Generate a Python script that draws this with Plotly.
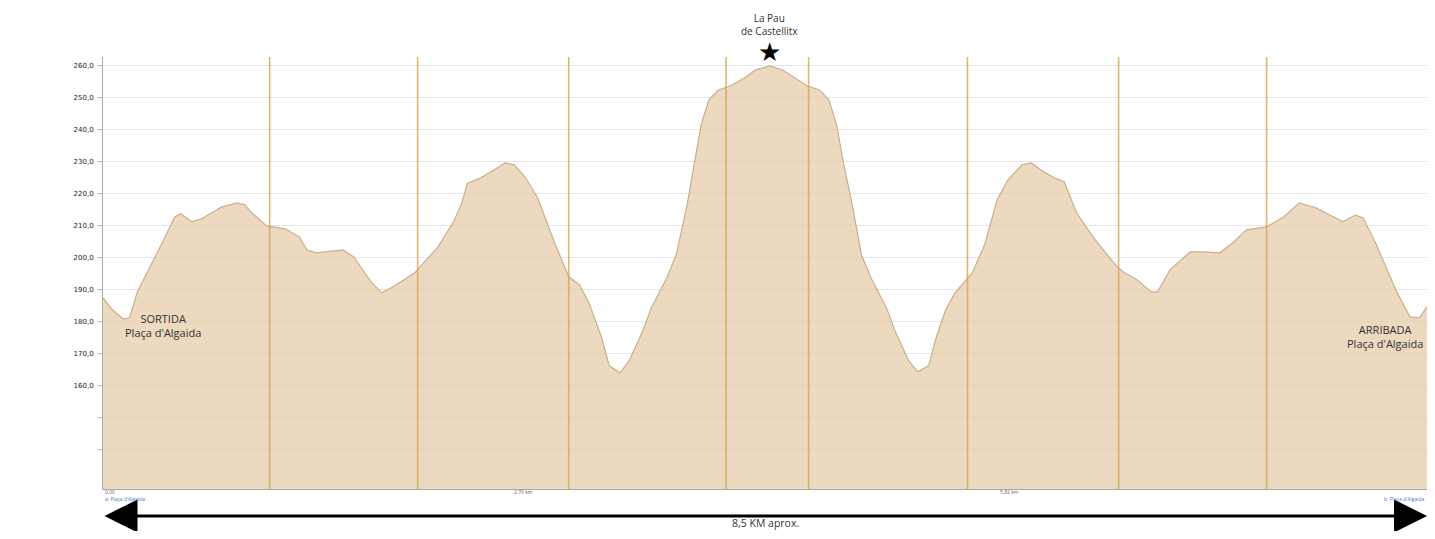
import plotly.graph_objects as go

# Elevation profile (distance in km, elevation in m)
dist_km = [0.00, 0.06, 0.13, 0.17, 0.22, 0.30, 0.38, 0.46, 0.50, 0.57, 0.63, 0.76, 0.86, 0.91, 0.95,
           1.05, 1.17, 1.26, 1.31, 1.37, 1.44, 1.54, 1.61, 1.65, 1.72, 1.79, 1.86, 2.00, 2.15, 2.25,
           2.30, 2.34, 2.41, 2.51, 2.58, 2.64, 2.71, 2.79, 2.90, 2.99, 3.06, 3.12, 3.20, 3.25, 3.32,
           3.38, 3.46, 3.52, 3.62, 3.68, 3.75, 3.80, 3.84, 3.89, 3.95, 4.03, 4.12, 4.19, 4.28,
           4.36, 4.44, 4.52, 4.60, 4.66, 4.71, 4.75, 4.81, 4.87, 4.93, 5.03, 5.09, 5.17, 5.23, 5.30,
           5.35, 5.41, 5.47, 5.58, 5.66, 5.74, 5.81, 5.90, 5.96, 6.04, 6.11, 6.17, 6.25, 6.36, 6.49,
           6.55, 6.64, 6.73, 6.77, 6.85, 6.98, 7.06, 7.17, 7.26, 7.34, 7.47, 7.58, 7.68, 7.79, 7.96,
           8.04, 8.09, 8.17, 8.30, 8.39, 8.45, 8.50]
elev_m = [187.5, 183.8, 180.9, 181.3, 189.4, 196.9, 204.7, 212.8, 213.8, 211.3, 212.2, 215.9, 217.2, 216.6, 214.4,
          210.0, 209.1, 206.6, 202.5, 201.6, 201.9, 202.5, 200.3, 197.5, 192.5, 189.1, 190.9, 195.3, 203.4, 211.3,
          216.6, 223.4, 224.7, 227.5, 229.7, 229.1, 225.3, 218.8, 204.7, 194.1, 191.6, 185.9, 175.3, 166.3, 164.1,
          168.1, 176.6, 184.4, 193.8, 200.9, 216.6, 230.6, 241.6, 249.4, 252.5, 253.8, 256.3, 258.8, 260.0,
          258.8, 256.3, 253.8, 252.5, 249.4, 241.6, 230.6, 216.6, 200.9, 193.8, 184.4, 176.6, 168.1, 164.4, 166.3,
          175.3, 183.8, 189.1, 195.3, 204.1, 218.1, 224.4, 229.1, 229.7, 226.9, 225.0, 223.8, 214.1, 206.3, 198.4,
          195.6, 193.1, 189.4, 189.4, 196.3, 201.9, 201.9, 201.6, 205.0, 208.8, 209.7, 212.8, 217.2, 215.6, 211.3,
          213.4, 212.5, 204.7, 190.0, 181.6, 181.3, 184.7]

# Vertical marker lines (km)
marker_km = [1.07, 2.02, 2.99, 4.00, 4.53, 5.55, 6.52, 7.47]

# Y axis ticks
y_tickvals = [140, 150, 160, 170, 180, 190, 200, 210, 220, 230, 240, 250, 260]
y_ticktext = ["", "", "160,0", "170,0", "180,0", "190,0", "200,0", "210,0", "220,0",
              "230,0", "240,0", "250,0", "260,0"]

# Summit
summit_km = 4.28

Y_MIN, Y_MAX = 127.8, 262.8
PLOT_H = 432.0

fig = go.Figure()

fig.add_trace(go.Scatter(
    x=dist_km, y=elev_m, mode="lines",
    line=dict(color="rgb(200,176,142)", width=1.2),
    fill="tozeroy", fillcolor="rgba(228,203,166,0.72)",
    hoverinfo="skip", showlegend=False,
))

for k in marker_km:
    fig.add_shape(type="line", xref="x", yref="paper", x0=k, x1=k, y0=0, y1=1,
                  line=dict(color="rgba(214,165,80,0.8)", width=1.6), layer="above")

font_fam = "Open Sans, Lato, DejaVu Sans"

fig.add_annotation(x=summit_km, y=1.0, xref="x", yref="paper", yshift=5,
                   text="★", showarrow=False,
                   font=dict(size=26, color="black", family="DejaVu Sans"), yanchor="middle")
fig.add_annotation(x=summit_km, y=1.0, xref="x", yref="paper", yshift=17,
                   text="La Pau<br>de Castellitx", showarrow=False,
                   font=dict(size=10, color="#333", family=font_fam), yanchor="bottom")
fig.add_annotation(x=0.385, y=184.0, xref="x", yref="y",
                   text="SORTIDA<br>Plaça d'Algaida", showarrow=False,
                   font=dict(size=11, color="#333", family=font_fam), yanchor="top")
fig.add_annotation(x=8.49, y=180.7, xref="x", yref="y",
                   text="ARRIBADA<br>Plaça d'Algaida", showarrow=False,
                   font=dict(size=11, color="#333", family=font_fam), yanchor="top", xanchor="right")

# Double-headed distance arrow
arrow_y = -27 / PLOT_H
fig.add_annotation(x=1.0, y=arrow_y, ax=0.0, ay=arrow_y, xref="x domain", yref="y domain",
                   axref="x domain", ayref="y domain", text="", showarrow=True,
                   arrowhead=2, startarrowhead=2, arrowside="end+start",
                   arrowsize=2.2, startarrowsize=2.2, arrowwidth=3, arrowcolor="black",
                   standoff=0, startstandoff=0)
fig.add_annotation(x=0.5, y=-42 / PLOT_H, xref="x domain", yref="y domain", text="8,5 KM aprox.",
                   showarrow=False, font=dict(size=10.5, color="#333", family=font_fam),
                   yanchor="bottom", borderpad=0)

# tiny axis captions
fig.add_annotation(x=0.0, y=0, xref="x", yref="y domain", yshift=-8, text="0,00", showarrow=False,
                   font=dict(size=5, color="#666"), xanchor="left")
fig.add_annotation(x=2.70, y=0, xref="x", yref="y domain", yshift=-8, text="2,70 km", showarrow=False,
                   font=dict(size=5, color="#666"))
fig.add_annotation(x=5.82, y=0, xref="x", yref="y domain", yshift=-8, text="5,82 km", showarrow=False,
                   font=dict(size=5, color="#666"))
fig.add_annotation(x=0.0, y=0, xref="x", yref="y domain", yshift=-15, text="a: Plaça d'Algaida", showarrow=False,
                   font=dict(size=5, color="#5a6fd0"), xanchor="left")
fig.add_annotation(x=8.5, y=0, xref="x", yref="y domain", yshift=-15, text="b: Plaça d'Algaida", showarrow=False,
                   font=dict(size=5, color="#5a6fd0"), xanchor="right")

# The page adds an 8px body margin, so the figure is sized to fit inside the body box.
fig.update_layout(
    width=1419, height=523,
    margin=dict(l=95, r=0, t=49, b=42),
    paper_bgcolor="white", plot_bgcolor="white",
    showlegend=False,
    xaxis=dict(range=[0, 8.5], showgrid=False, zeroline=False, showticklabels=False,
               showline=True, linecolor="#aaa", linewidth=1, ticks=""),
    yaxis=dict(range=[Y_MIN, Y_MAX], tickvals=y_tickvals, ticktext=y_ticktext,
               showgrid=True, gridcolor="rgba(200,200,200,0.45)", gridwidth=1,
               zeroline=False, showline=True, linecolor="#aaa", linewidth=1,
               ticks="outside", ticklen=5, tickcolor="#bbb",
               tickfont=dict(size=7, color="#222", family="DejaVu Sans"), ticklabelstandoff=2),
)

fig.write_html("out.html")
